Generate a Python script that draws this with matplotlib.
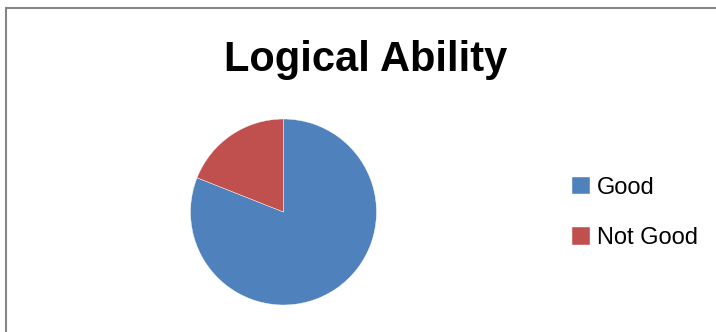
import matplotlib
matplotlib.use('Agg')
import matplotlib.pyplot as plt
from matplotlib.patches import Rectangle

labels = ['Good', 'Not Good']
values = [81, 19]
colors = ['#4F81BD', '#C0504D']

font = 'Liberation Sans'

fig = plt.figure(figsize=(7.16, 3.32), dpi=100)
fig.patches.append(Rectangle((6 / 716, -0.1), 1.2, (332 - 8) / 332 + 0.1,
                             transform=fig.transFigure, fill=False,
                             edgecolor='#868686', linewidth=1.5))

ax = fig.add_axes([(283.5 - 93) / 716, (332 - 212 - 93) / 332, 186 / 716, 186 / 332])
wedges, _ = ax.pie(values, colors=colors, startangle=90, counterclock=False,
                   wedgeprops=dict(edgecolor='white', linewidth=0.3))
ax.set_xlim(-1, 1)
ax.set_ylim(-1, 1)
ax.set_aspect('equal')

fig.text(366 / 716, 1 - 60 / 332, 'Logical Ability', ha='center', va='center',
         fontsize=30, fontweight='bold', family=font)

fig.legend(wedges, labels, loc='center left', bbox_to_anchor=(572 / 716, 1 - 213 / 332),
           frameon=False, prop=dict(family=font, size=17), handlelength=0.75,
           handleheight=0.75, labelspacing=1.2, handletextpad=0.3, borderpad=0,
           borderaxespad=0)

fig.savefig('out.png', dpi=100)
